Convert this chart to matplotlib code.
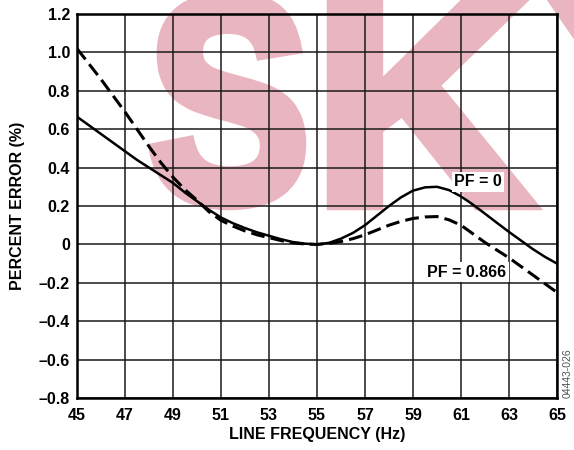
import matplotlib
matplotlib.use('Agg')
import matplotlib.pyplot as plt
from matplotlib.textpath import TextPath
from matplotlib.patches import PathPatch
from matplotlib.font_manager import FontProperties
from matplotlib.transforms import Affine2D

# line frequency (Hz)
freq = [45, 45.5, 46, 46.5, 47, 47.5, 48, 48.5, 49, 49.5, 50, 50.5, 51, 51.5, 52, 52.5,
        53, 53.5, 54, 54.5, 55, 55.5, 56, 56.5, 57, 57.5, 58, 58.5, 59, 59.5, 60, 60.5,
        61, 61.5, 62, 62.5, 63, 63.5, 64, 64.5, 65]
# percent error, PF = 0 (solid)
err_pf0 = [0.665, 0.62, 0.575, 0.53, 0.485, 0.44, 0.40, 0.36, 0.32, 0.27, 0.225, 0.18,
           0.14, 0.11, 0.085, 0.063, 0.045, 0.027, 0.012, 0.004, 0.0, 0.008, 0.03, 0.06,
           0.10, 0.15, 0.20, 0.245, 0.28, 0.297, 0.30, 0.283, 0.25, 0.207, 0.16, 0.112,
           0.065, 0.02, -0.025, -0.065, -0.10]
# percent error, PF = 0.866 (dashed)
err_pf866 = [1.02, 0.94, 0.86, 0.775, 0.69, 0.60, 0.51, 0.425, 0.35, 0.285, 0.23, 0.17,
             0.125, 0.095, 0.07, 0.05, 0.035, 0.02, 0.008, 0.002, 0.0, 0.005, 0.015, 0.03,
             0.05, 0.075, 0.10, 0.12, 0.135, 0.143, 0.145, 0.128, 0.10, 0.055, 0.01, -0.03,
             -0.07, -0.115, -0.16, -0.205, -0.25]

xticks = [45, 47, 49, 51, 53, 55, 57, 59, 61, 63, 65]
yticks = [-0.8, -0.6, -0.4, -0.2, 0, 0.2, 0.4, 0.6, 0.8, 1.0, 1.2]
ytick_labels = ['\u20130.8', '\u20130.6', '\u20130.4', '\u20130.2', '0', '0.2', '0.4', '0.6', '0.8', '1.0', '1.2']

plt.rcParams['font.family'] = ['Liberation Sans', 'DejaVu Sans']
plt.rcParams['font.weight'] = 'bold'

W, H = 574, 450
fig = plt.figure(figsize=(W / 100, H / 100), dpi=100)
ax = fig.add_axes([77 / W, 52 / H, 480 / W, 384 / H])
ax.set_facecolor('none')

# pink watermark behind the plot, one letter at a time (pixel boxes, y from top)
fp = FontProperties(family='Liberation Sans', weight='bold')
wm_color = '#e9b5c0'
for ch, (x0, x1, y0, y1) in [('S', (155, 300, -2, 204)),
                             ('K', (333, 530, -2, 204)),
                             ('Y', (553, 770, -2, 204))]:
    tp = TextPath((0, 0), ch, size=1, prop=fp)
    ext = tp.get_extents()
    tr = (Affine2D().translate(-ext.x0, -ext.y0)
          .scale((x1 - x0) / ext.width, (y1 - y0) / ext.height)
          .translate(x0, H - y1).scale(1 / W, 1 / H))
    patch = PathPatch(tr.transform_path(tp), facecolor=wm_color, edgecolor=wm_color,
                      lw=9, joinstyle='miter', transform=fig.transFigure, zorder=-1)
    fig.add_artist(patch)

ax.plot(freq, err_pf0, color='black', lw=1.8, zorder=3)
ax.plot(freq, err_pf866, color='black', lw=2.2, ls=(0, (4.5, 2.0)), zorder=3)

ax.set_xlim(45, 65)
ax.set_ylim(-0.8, 1.2)
ax.set_xticks(xticks)
ax.set_yticks(yticks)
ax.set_yticklabels(ytick_labels)
ax.tick_params(length=0, labelsize=11.5)
ax.tick_params(axis='x', pad=7)
ax.tick_params(axis='y', pad=5)
ax.grid(True, color='#1a1a1a', lw=1.1)
ax.set_axisbelow(True)
for s in ax.spines.values():
    s.set_linewidth(1.8)
    s.set_zorder(4)

ax.set_xlabel('LINE FREQUENCY (Hz)', fontsize=11.5, fontweight='bold', labelpad=3)
ax.set_ylabel('PERCENT ERROR (%)', fontsize=11.5, fontweight='bold', labelpad=10)

ax.text(61.7, 0.325, 'PF = 0', fontsize=11.5, fontweight='bold', ha='center', va='center',
        bbox=dict(facecolor='white', edgecolor='none', pad=1.5), zorder=5)
ax.text(61.25, -0.144, 'PF = 0.866', fontsize=11.5, fontweight='bold', ha='center', va='center',
        bbox=dict(facecolor='white', edgecolor='none', pad=1.5), zorder=5)

fig.text(568 / W, 1 - 373 / H, '04443-026', rotation=90, fontsize=7.5, fontweight='normal',
         color='#555555', ha='center', va='center')

fig.savefig('out.png', dpi=100)
